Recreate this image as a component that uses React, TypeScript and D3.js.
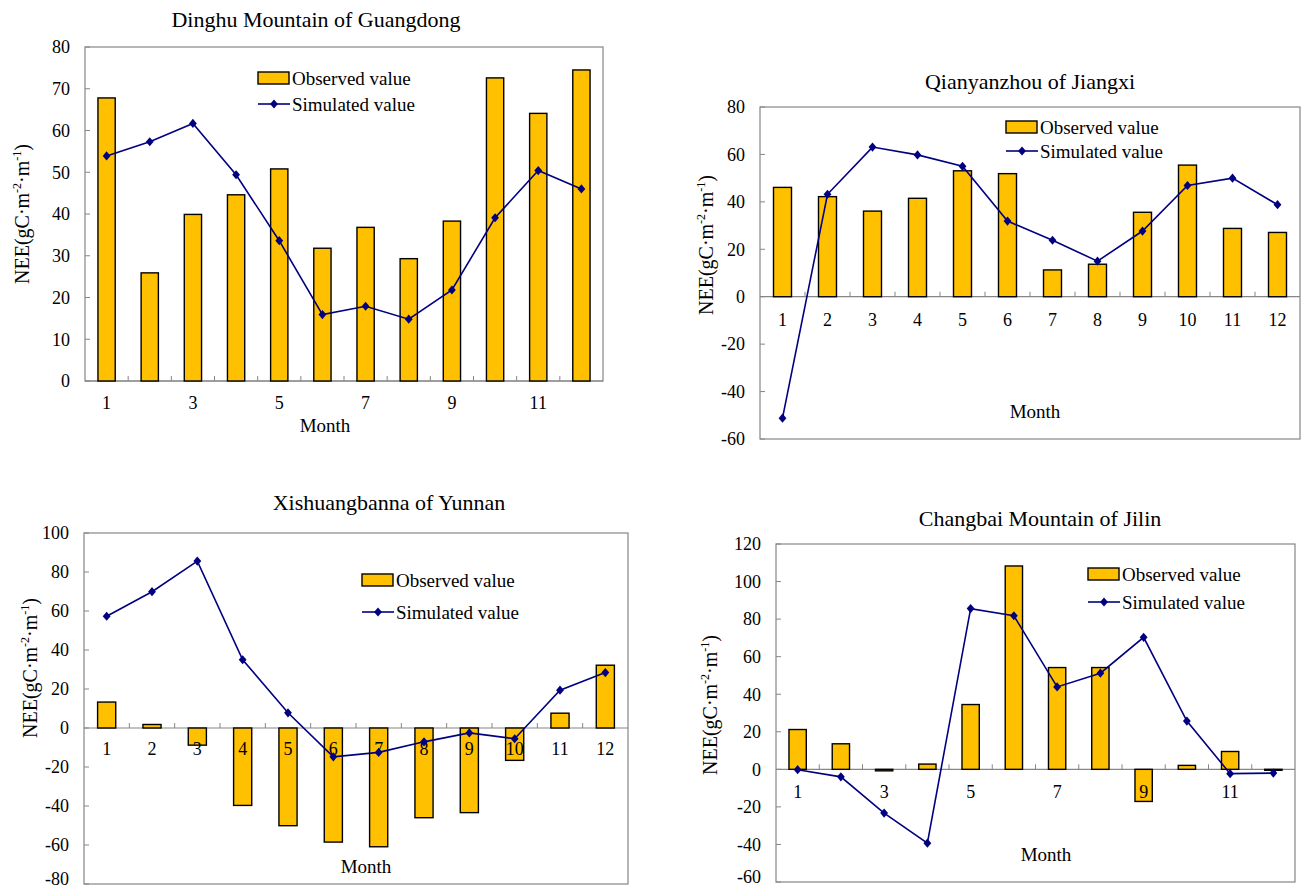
import React from "react";
import * as d3 from "d3";

// Monthly net ecosystem exchange, observed (bars) vs simulated (line), four forest sites
const months = [1, 2, 3, 4, 5, 6, 7, 8, 9, 10, 11, 12];

const dinghuObserved = [67.8, 25.9, 39.9, 44.6, 50.8, 31.8, 36.8, 29.3, 38.3, 72.6, 64.1, 74.5];
const dinghuSimulated = [53.9, 57.3, 61.7, 49.4, 33.6, 15.9, 17.9, 14.8, 21.8, 39.1, 50.4, 46.0];

const qianyanzhouObserved = [46.1, 42.2, 36.1, 41.5, 53.1, 51.9, 11.3, 13.7, 35.6, 55.5, 28.8, 27.1];
const qianyanzhouSimulated = [-51.2, 43.2, 63.1, 59.8, 55.0, 31.9, 23.8, 15.0, 27.7, 46.9, 50.0, 38.8];

const xishuangbannaObserved = [13.3, 1.8, -8.8, -39.7, -50.1, -58.5, -60.9, -46.0, -43.4, -16.6, 7.6, 32.2];
const xishuangbannaSimulated = [57.3, 69.9, 85.6, 35.0, 7.8, -14.8, -12.5, -7.1, -2.5, -5.5, 19.4, 28.4];

const changbaiObserved = [21.2, 13.6, -0.8, 2.8, 34.5, 108.3, 54.2, 54.2, -17.1, 2.1, 9.5, -0.5];
const changbaiSimulated = [-0.2, -4.0, -23.3, -39.3, 85.6, 81.8, 43.9, 51.2, 70.3, 25.7, -2.3, -2.0];

const dinghuTicks = [0, 10, 20, 30, 40, 50, 60, 70, 80];
const qianyanzhouTicks = [-60, -40, -20, 0, 20, 40, 60, 80];
const xishuangbannaTicks = [-80, -60, -40, -20, 0, 20, 40, 60, 80, 100];
const changbaiTicks = [-60, -40, -20, 0, 20, 40, 60, 80, 100, 120];

const oddMonths = [1, 3, 5, 7, 9, 11];

const FONT = "Liberation Serif, Times New Roman, Times, serif";
const BAR_FILL = "#FFC000";
const LINE_COLOR = "#000080";
const FRAME = "#868686";

type PanelConfig = {
  title: string;
  observed: number[];
  simulated: number[];
  ticks: number[];
  monthLabels: number[];
  left: number;
  right: number;
  top: number;
  bottom: number;
  titlePos: [number, number];
  monthPos: [number, number];
  xLabelY: number;
  legend: [number, number, number]; // box x, observed row y, simulated row y
  yTitlePos: [number, number];
};

const panels: PanelConfig[] = [
  {
    title: "Dinghu Mountain of Guangdong",
    observed: dinghuObserved,
    simulated: dinghuSimulated,
    ticks: dinghuTicks,
    monthLabels: oddMonths,
    left: 85, right: 603, top: 47, bottom: 381,
    titlePos: [316, 27],
    monthPos: [325, 432],
    xLabelY: 409,
    legend: [258, 78, 104],
    yTitlePos: [22, 214],
  },
  {
    title: "Qianyanzhou of Jiangxi",
    observed: qianyanzhouObserved,
    simulated: qianyanzhouSimulated,
    ticks: qianyanzhouTicks,
    monthLabels: months,
    left: 760, right: 1300, top: 107, bottom: 439,
    titlePos: [1030, 89],
    monthPos: [1035, 418],
    xLabelY: 326,
    legend: [1006, 127, 151],
    yTitlePos: [706, 245],
  },
  {
    title: "Xishuangbanna of Yunnan",
    observed: xishuangbannaObserved,
    simulated: xishuangbannaSimulated,
    ticks: xishuangbannaTicks,
    monthLabels: months,
    left: 84, right: 628, top: 533, bottom: 884,
    titlePos: [389, 510],
    monthPos: [366, 873],
    xLabelY: 755,
    legend: [362, 580, 612],
    yTitlePos: [30, 668],
  },
  {
    title: "Changbai Mountain of Jilin",
    observed: changbaiObserved,
    simulated: changbaiSimulated,
    ticks: changbaiTicks,
    monthLabels: oddMonths,
    left: 776, right: 1295, top: 544, bottom: 882,
    titlePos: [1040, 526],
    monthPos: [1046, 861],
    xLabelY: 798,
    legend: [1088, 574, 602],
    yTitlePos: [710, 705],
  },
];

function diamond(cx: number, cy: number, r: number) {
  return `M${cx},${cy - r}L${cx + r * 0.85},${cy}L${cx},${cy + r}L${cx - r * 0.85},${cy}Z`;
}

function Panel({ cfg }: { cfg: PanelConfig }) {
  const x = d3
    .scaleBand<number>()
    .domain(months)
    .range([cfg.left, cfg.right])
    .paddingInner(0.6)
    .paddingOuter(0.3);
  const step = x.step();
  const bw = x.bandwidth();
  const cx = (m: number) => (x(m) as number) + bw / 2;

  const yMin = d3.min(cfg.ticks) as number;
  const yMax = d3.max(cfg.ticks) as number;
  const y = d3.scaleLinear().domain([yMin, yMax]).range([cfg.bottom, cfg.top]);
  const y0 = y(0);

  const line = d3
    .line<number>()
    .x((_, i) => cx(months[i]))
    .y((v) => y(v));

  const [lx, obsY, simY] = cfg.legend;

  return (
    <g style={{ fontFamily: FONT }}>
      <text
        x={cfg.titlePos[0]}
        y={cfg.titlePos[1]}
        textAnchor="middle"
        fontSize={22}
        fill="#000"
      >
        {cfg.title}
      </text>

      {/* plot frame */}
      <rect
        x={cfg.left}
        y={cfg.top}
        width={cfg.right - cfg.left}
        height={cfg.bottom - cfg.top}
        fill="#fff"
        stroke={FRAME}
        strokeWidth={1.2}
      />

      {/* value axis ticks and labels */}
      {cfg.ticks.map((t) => (
        <g key={`yt${t}`}>
          <line x1={cfg.left} x2={cfg.left + 5} y1={y(t)} y2={y(t)} stroke={FRAME} strokeWidth={1} />
          <text
            x={cfg.left - 15}
            y={y(t)}
            dy={t === yMin && cfg.bottom > 870 ? "0.05em" : "0.35em"}
            textAnchor="end"
            fontSize={18}
            fill="#000"
          >
            {String(t)}
          </text>
        </g>
      ))}

      {/* category axis along zero */}
      <line x1={cfg.left} x2={cfg.right} y1={y0} y2={y0} stroke={FRAME} strokeWidth={1.2} />
      {d3.range(1, months.length).map((i) => (
        <line
          key={`xt${i}`}
          x1={cfg.left + step * i}
          x2={cfg.left + step * i}
          y1={y0}
          y2={y0 - 5}
          stroke={FRAME}
          strokeWidth={1}
        />
      ))}

      {/* observed bars */}
      {cfg.observed.map((v, i) => {
        const m = months[i];
        const top = Math.min(y(v), y0);
        const h = Math.abs(y(v) - y0);
        return (
          <rect
            key={`b${m}`}
            x={x(m)}
            y={top}
            width={bw}
            height={h}
            fill={BAR_FILL}
            stroke="#000"
            strokeWidth={1.4}
          />
        );
      })}

      {/* month labels */}
      {cfg.monthLabels.map((m) => (
        <text
          key={`xl${m}`}
          x={cx(m)}
          y={cfg.xLabelY}
          textAnchor="middle"
          fontSize={18}
          fill="#000"
        >
          {String(m)}
        </text>
      ))}

      {/* simulated series */}
      <path d={line(cfg.simulated) || ""} fill="none" stroke={LINE_COLOR} strokeWidth={1.6} />
      {cfg.simulated.map((v, i) => (
        <path key={`d${i}`} d={diamond(cx(months[i]), y(v), 4.6)} fill={LINE_COLOR} />
      ))}

      <text
        x={cfg.monthPos[0]}
        y={cfg.monthPos[1]}
        textAnchor="middle"
        fontSize={19}
        fill="#000"
      >
        Month
      </text>

      {/* axis title */}
      <text
        transform={`translate(${cfg.yTitlePos[0]},${cfg.yTitlePos[1]}) rotate(-90)`}
        textAnchor="middle"
        dy="0.35em"
        fontSize={20}
        fill="#000"
      >
        NEE(gC·m
        <tspan fontSize={12} dy={-8}>-2</tspan>
        <tspan dy={8}>·m</tspan>
        <tspan fontSize={12} dy={-8}>-1</tspan>
        <tspan dy={8}>)</tspan>
      </text>

      {/* legend */}
      <rect x={lx} y={obsY - 6} width={31} height={12} fill={BAR_FILL} stroke="#000" strokeWidth={1.4} />
      <text x={lx + 34} y={obsY} dy="0.35em" fontSize={19} fill="#000">
        Observed value
      </text>
      <line x1={lx} x2={lx + 32} y1={simY} y2={simY} stroke={LINE_COLOR} strokeWidth={1.6} />
      <path d={diamond(lx + 16, simY, 4.6)} fill={LINE_COLOR} />
      <text x={lx + 34} y={simY} dy="0.35em" fontSize={19} fill="#000">
        Simulated value
      </text>
    </g>
  );
}

export default function App() {
  return (
    <svg
      width={1303}
      height={890}
      viewBox="0 0 1303 890"
      style={{ position: "absolute", left: 0, top: 0, background: "#fff" }}
    >
      <rect width={1303} height={890} fill="#fff" />
      {panels.map((p) => (
        <Panel key={p.title} cfg={p} />
      ))}
    </svg>
  );
}
